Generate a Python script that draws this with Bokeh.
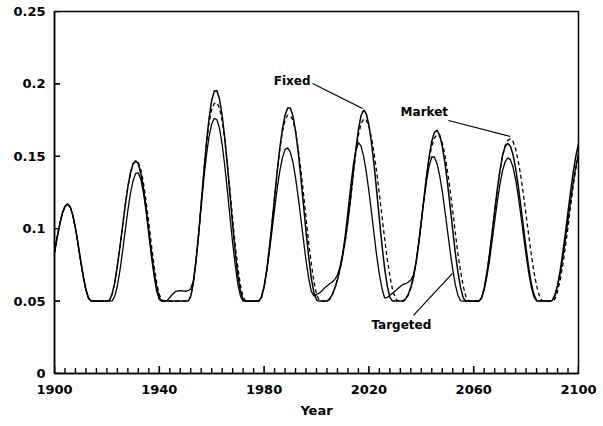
from bokeh.plotting import figure
from bokeh.models import FixedTicker, ColumnDataSource
from bokeh.core.properties import value
from bokeh.embed import file_html
from bokeh.resources import INLINE

# ---------------- data (one value per year) ----------------
years = list(range(1900, 2101))

fixed = [
    0.0835, 0.0939, 0.1032, 0.1106, 0.1154, 0.117, 0.115, 0.1092, 0.1003, 0.0893,   # 1900
    0.0777, 0.0668, 0.0578, 0.052, 0.05, 0.05, 0.05, 0.05, 0.05, 0.05,              # 1910
    0.05, 0.0506, 0.0549, 0.0626, 0.0743, 0.0877, 0.1021, 0.1163, 0.1288, 0.1386,   # 1920
    0.1449, 0.147, 0.1447, 0.1378, 0.127, 0.1135, 0.0985, 0.0835, 0.07, 0.0592,     # 1930
    0.0523, 0.05, 0.05, 0.05, 0.05, 0.05, 0.05, 0.05, 0.05, 0.05,                   # 1940
    0.05, 0.05, 0.0532, 0.0627, 0.0777, 0.0961, 0.1176, 0.1392, 0.1595, 0.1764,     # 1950
    0.1887, 0.1951, 0.1953, 0.1894, 0.178, 0.1624, 0.1436, 0.123, 0.1024, 0.0834,   # 1960
    0.0675, 0.0566, 0.0507, 0.05, 0.05, 0.05, 0.05, 0.05, 0.05, 0.0525,             # 1970
    0.0598, 0.0712, 0.0862, 0.1033, 0.1216, 0.1395, 0.1557, 0.169, 0.1785, 0.1833,  # 1980
    0.1833, 0.178, 0.1675, 0.1532, 0.1359, 0.117, 0.0981, 0.0807, 0.0661, 0.056,    # 1990
    0.0507, 0.05, 0.05, 0.05, 0.05, 0.0515, 0.0545, 0.059, 0.065, 0.0725,           # 2000
    0.0815, 0.0925, 0.1055, 0.121, 0.138, 0.1545, 0.1685, 0.178, 0.182, 0.1794,     # 2010
    0.1717, 0.159, 0.1435, 0.1254, 0.1068, 0.0885, 0.0728, 0.0606, 0.0526, 0.05,    # 2020
    0.05, 0.05, 0.05, 0.05, 0.0515, 0.0545, 0.0595, 0.0665, 0.0765, 0.0895,         # 2030
    0.105, 0.121, 0.1365, 0.15, 0.1605, 0.1665, 0.168, 0.1647, 0.1571, 0.1458,      # 2040
    0.1315, 0.1156, 0.0991, 0.083, 0.0698, 0.0593, 0.0522, 0.05, 0.05, 0.05,        # 2050
    0.05, 0.05, 0.05, 0.0522, 0.0587, 0.0689, 0.0818, 0.0969, 0.1122, 0.1272,       # 2060
    0.14, 0.1505, 0.1568, 0.159, 0.157, 0.1512, 0.1418, 0.1296, 0.1155, 0.1008,     # 2070
    0.0862, 0.073, 0.062, 0.0545, 0.0505, 0.05, 0.05, 0.05, 0.05, 0.05,             # 2080
    0.0505, 0.0542, 0.061, 0.071, 0.0832, 0.0971, 0.1116, 0.126, 0.1393, 0.1502,    # 2090
    0.1588,                                                                         # 2100
]

targeted = [
    0.0835, 0.0939, 0.1032, 0.1106, 0.1154, 0.117, 0.115, 0.1092, 0.1003, 0.0893,   # 1900
    0.0777, 0.0668, 0.0578, 0.052, 0.05, 0.05, 0.05, 0.05, 0.05, 0.05,              # 1910
    0.05, 0.05, 0.0501, 0.0533, 0.0606, 0.0714, 0.0846, 0.0988, 0.1127, 0.1245,     # 1920
    0.1333, 0.1382, 0.1386, 0.1338, 0.1242, 0.1112, 0.096, 0.0807, 0.0674, 0.0569,  # 1930
    0.051, 0.05, 0.05, 0.0505, 0.0525, 0.0548, 0.0563, 0.057, 0.0572, 0.057,        # 1940
    0.0568, 0.0572, 0.0585, 0.064, 0.0775, 0.0955, 0.1155, 0.1345, 0.151, 0.1637,   # 1950
    0.1723, 0.1763, 0.1752, 0.1691, 0.1581, 0.1433, 0.1261, 0.1077, 0.09, 0.0746,   # 1960
    0.0614, 0.0532, 0.05, 0.05, 0.05, 0.05, 0.05, 0.05, 0.05, 0.0531,               # 1970
    0.0601, 0.0709, 0.0839, 0.0985, 0.1135, 0.1278, 0.14, 0.1491, 0.1546, 0.1559,   # 1980
    0.1529, 0.1459, 0.1353, 0.1222, 0.1076, 0.0924, 0.0781, 0.0661, 0.0569, 0.0535, # 1990
    0.0545, 0.0555, 0.057, 0.059, 0.0605, 0.062, 0.063, 0.065, 0.068, 0.074,        # 2000
    0.083, 0.096, 0.112, 0.1285, 0.1435, 0.154, 0.1595, 0.157, 0.1499, 0.1393,      # 2010
    0.126, 0.1112, 0.0958, 0.0808, 0.0685, 0.0587, 0.0521, 0.0525, 0.054, 0.0555,   # 2020
    0.057, 0.0585, 0.06, 0.0615, 0.062, 0.063, 0.0645, 0.068, 0.077, 0.09,          # 2030
    0.105, 0.1195, 0.133, 0.1435, 0.1495, 0.1495, 0.1449, 0.1368, 0.1259, 0.1127,   # 2040
    0.0986, 0.0845, 0.0717, 0.0612, 0.0539, 0.0503, 0.05, 0.05, 0.05, 0.05,         # 2050
    0.05, 0.05, 0.05, 0.0519, 0.0578, 0.0666, 0.0777, 0.0912, 0.105, 0.1184,        # 2060
    0.1304, 0.1399, 0.1462, 0.149, 0.1477, 0.1426, 0.134, 0.1227, 0.1093, 0.0953,   # 2070
    0.0817, 0.0695, 0.0594, 0.0529, 0.0501, 0.05, 0.05, 0.05, 0.05, 0.05,           # 2080
    0.0504, 0.0537, 0.0601, 0.0689, 0.08, 0.0926, 0.106, 0.1192, 0.132, 0.143,      # 2090
    0.1521,                                                                         # 2100
]

market = [
    0.0835, 0.0939, 0.1032, 0.1106, 0.1154, 0.117, 0.115, 0.1092, 0.1003, 0.0893,   # 1900
    0.0777, 0.0668, 0.0578, 0.052, 0.05, 0.05, 0.05, 0.05, 0.05, 0.05,              # 1910
    0.05, 0.0506, 0.0549, 0.0626, 0.0743, 0.0877, 0.1021, 0.1163, 0.1288, 0.1386,   # 1920
    0.1449, 0.1462, 0.1458, 0.1405, 0.1312, 0.1185, 0.104, 0.0887, 0.0745, 0.0625,  # 1930
    0.0545, 0.0508, 0.05, 0.05, 0.05, 0.05, 0.05, 0.05, 0.05, 0.05,                 # 1940
    0.05, 0.05, 0.0532, 0.0627, 0.0777, 0.0961, 0.1176, 0.139, 0.1585, 0.173,       # 1950
    0.1825, 0.1865, 0.187, 0.1832, 0.1744, 0.1612, 0.1447, 0.1262, 0.107, 0.0884,   # 1960
    0.073, 0.0608, 0.0526, 0.05, 0.05, 0.05, 0.05, 0.05, 0.05, 0.0525,              # 1970
    0.0598, 0.0712, 0.0862, 0.1033, 0.1216, 0.1393, 0.155, 0.167, 0.175, 0.1785,    # 1980
    0.178, 0.1751, 0.1673, 0.1555, 0.1413, 0.1248, 0.1077, 0.0908, 0.0762, 0.0634,  # 1990
    0.055, 0.0505, 0.05, 0.05, 0.05, 0.0512, 0.054, 0.0585, 0.0645, 0.072,          # 2000
    0.081, 0.092, 0.105, 0.12, 0.1365, 0.152, 0.1645, 0.1725, 0.1758, 0.1751,       # 2010
    0.1706, 0.1628, 0.1518, 0.1387, 0.1238, 0.1085, 0.0931, 0.0792, 0.0673, 0.0582, # 2020
    0.0523, 0.0501, 0.05, 0.05, 0.0512, 0.054, 0.059, 0.066, 0.076, 0.089,          # 2030
    0.1045, 0.1205, 0.1355, 0.148, 0.157, 0.1625, 0.165, 0.1641, 0.1594, 0.1511,    # 2040
    0.1396, 0.1267, 0.112, 0.097, 0.0824, 0.0702, 0.0604, 0.0532, 0.0502, 0.05,     # 2050
    0.05, 0.05, 0.05, 0.0522, 0.0587, 0.0689, 0.0818, 0.0969, 0.112, 0.1268,        # 2060
    0.1398, 0.1505, 0.1575, 0.161, 0.162, 0.1602, 0.1551, 0.1468, 0.1362, 0.1234,   # 2070
    0.1095, 0.0955, 0.082, 0.0703, 0.0606, 0.054, 0.0504, 0.05, 0.05, 0.05,         # 2080
    0.05, 0.0515, 0.0565, 0.0645, 0.075, 0.0875, 0.101, 0.1155, 0.1295, 0.1415,     # 2090
    0.1505,                                                                         # 2100
]

x_major_ticks = [1900, 1940, 1980, 2020, 2060, 2100]
x_minor_ticks = [1904, 1908, 1912, 1916, 1920, 1924, 1928, 1932, 1936,
                 1944, 1948, 1952, 1956, 1960, 1964, 1968, 1972, 1976,
                 1984, 1988, 1992, 1996, 2000, 2004, 2008, 2012, 2016,
                 2024, 2028, 2032, 2036, 2040, 2044, 2048, 2052, 2056,
                 2064, 2068, 2072, 2076, 2080, 2084, 2088, 2092, 2096]
y_ticks = [0, 0.05, 0.1, 0.15, 0.2, 0.25]
y_tick_labels = ["0", "0.05", "0.1", "0.15", "0.2", "0.25"]
series_labels = ["Fixed", "Market", "Targeted"]

# ---------------- figure ----------------
FONT = "DejaVu Sans"
X0, X1, Y0, Y1 = 1900, 2100, 0.0, 0.25

p = figure(width=603, height=426, x_range=(X0, X1), y_range=(Y0, Y1),
           output_backend="svg", toolbar_location=None,
           min_border_left=54, min_border_right=25, min_border_top=11, min_border_bottom=53)
p.background_fill_color = "white"
p.border_fill_color = "white"
p.xgrid.visible = False
p.ygrid.visible = False
p.outline_line_color = "black"
p.outline_line_width = 1.5

p.xaxis.ticker = FixedTicker(ticks=x_major_ticks, minor_ticks=[])
p.yaxis.ticker = FixedTicker(ticks=y_ticks, minor_ticks=[])
p.yaxis.major_label_overrides = {t: s for t, s in zip(y_ticks, y_tick_labels)}

for ax in (p.xaxis, p.yaxis):
    ax.axis_line_color = "black"
    ax.axis_line_width = 1.5
    ax.major_tick_in = 0
    ax.major_tick_out = 0
    ax.minor_tick_in = 0
    ax.minor_tick_out = 0
    ax.major_label_text_font = FONT
    ax.major_label_text_font_style = "bold"
    ax.major_label_text_font_size = "13px"
    ax.major_label_text_color = "black"

p.xaxis.major_label_standoff = 11
p.xaxis.axis_label = "Year"
p.xaxis.axis_label_text_font = FONT
p.xaxis.axis_label_text_font_style = "bold"
p.xaxis.axis_label_text_font_size = "13px"
p.xaxis.axis_label_text_color = "black"
p.xaxis.axis_label_standoff = 6
p.yaxis.major_label_standoff = 9

# inward tick marks, as small filled bars placed on the tick lists through the plot scales
p.rect(x=x_minor_ticks, y=[Y0] * len(x_minor_ticks), width=1.4, height=11,
       width_units="screen", height_units="screen",
       fill_color="black", line_color=None)
p.rect(x=x_major_ticks, y=[Y0] * len(x_major_ticks), width=1.6, height=15,
       width_units="screen", height_units="screen",
       fill_color="black", line_color=None)
p.rect(x=[X0] * len(y_ticks), y=y_ticks, width=11, height=1.6,
       width_units="screen", height_units="screen",
       fill_color="black", line_color=None)

src = ColumnDataSource(dict(year=years, fixed=fixed, targeted=targeted, market=market))
p.line("year", "fixed", source=src, line_color="black", line_width=1.5)
p.line("year", "targeted", source=src, line_color="black", line_width=1.3)
p.line("year", "market", source=src, line_color="black", line_width=1.3, line_dash="4 3")

# ---------------- annotations ----------------
p.segment(x0=[1998.5, 2050.4, 2037.0], y0=[0.2003, 0.1747, 0.0401],
          x1=[2017.6, 2074.0, 2051.9], y1=[0.1830, 0.1637, 0.0691],
          line_color="black", line_width=1.2)

common = dict(text_font=value(FONT), text_font_style="bold", text_font_size="12px",
              text_color="black", text_baseline="middle")
p.text(x=[1997.7], y=[0.2023], text=[series_labels[0]], text_align="right", **common)
p.text(x=[2032.1], y=[0.1809], text=[series_labels[1]], text_align="left", **common)
p.text(x=[2032.4], y=[0.0338], text=[series_labels[2]], text_align="center", **common)

open("out.html", "w").write(file_html(p, INLINE))
